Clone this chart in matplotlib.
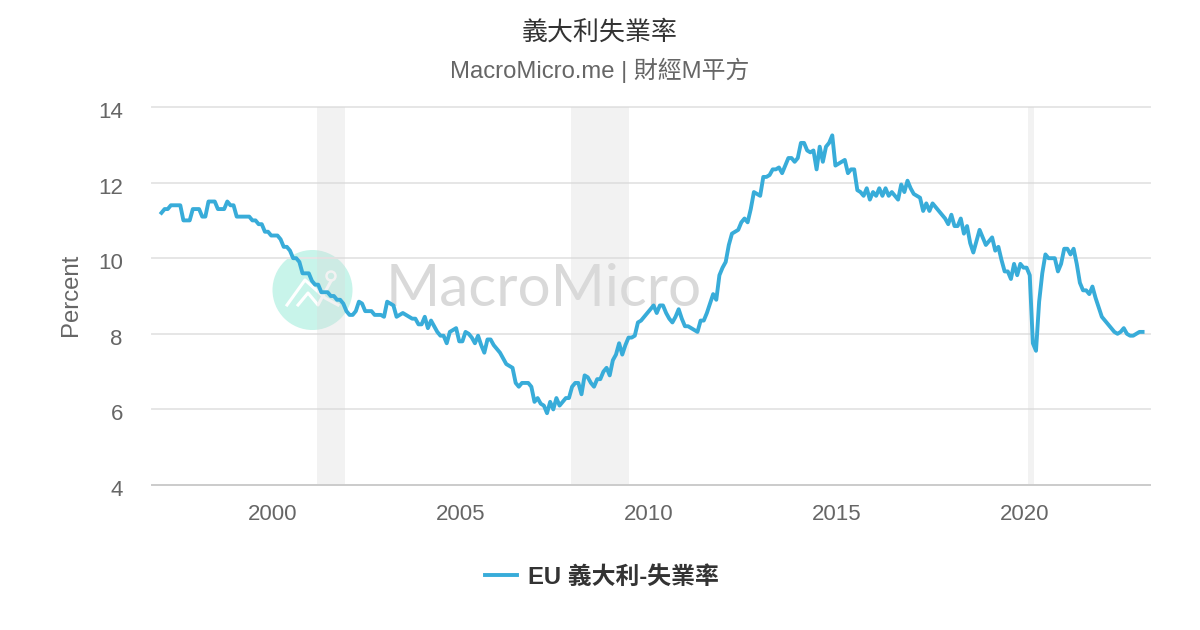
import matplotlib
matplotlib.use('Agg')
import matplotlib.pyplot as plt
import matplotlib.dates as mdates
import matplotlib.transforms as mtrans
from matplotlib.patches import Circle
import pandas as pd

title = '義大利失業率'
subtitle = 'MacroMicro.me | 財經M平方'
series_name = 'EU 義大利-失業率'
y_label = 'Percent'
y_ticks = [4, 6, 8, 10, 12, 14]
x_years = [2000, 2005, 2010, 2015, 2020]

# monthly, Jan 1997 onwards
unemployment = [
    11.2, 11.3, 11.3, 11.4, 11.4, 11.4, 11.4, 11.0, 11.0, 11.0, 11.3, 11.3,
    11.3, 11.1, 11.1, 11.5, 11.5, 11.5, 11.3, 11.3, 11.3, 11.5, 11.4, 11.4,
    11.1, 11.1, 11.1, 11.1, 11.1, 11.0, 11.0, 10.9, 10.9, 10.7, 10.7, 10.6,
    10.6, 10.6, 10.5, 10.3, 10.3, 10.2, 10.0, 10.0, 9.9, 9.6, 9.6, 9.6,
    9.4, 9.3, 9.3, 9.1, 9.1, 9.1, 9.0, 9.0, 8.9, 8.9, 8.8, 8.6,
    8.5, 8.5, 8.6, 8.85, 8.8, 8.6, 8.6, 8.6, 8.5, 8.5, 8.5, 8.45,
    8.85, 8.8, 8.75, 8.45, 8.5, 8.55, 8.5, 8.45, 8.4, 8.4, 8.25, 8.25,
    8.45, 8.15, 8.35, 8.2, 8.05, 7.95, 7.95, 7.75, 8.05, 8.1, 8.15, 7.8,
    7.8, 8.05, 8.0, 7.9, 7.75, 7.95, 7.7, 7.5, 7.85, 7.85, 7.7, 7.6,
    7.5, 7.35, 7.2, 7.15, 7.1, 6.7, 6.6, 6.7, 6.7, 6.7, 6.6, 6.2,
    6.3, 6.15, 6.1, 5.9, 6.2, 6.0, 6.3, 6.1, 6.2, 6.3, 6.3, 6.6,
    6.7, 6.7, 6.4, 6.9, 6.85, 6.7, 6.6, 6.8, 6.8, 7.0, 7.1, 6.9,
    7.3, 7.45, 7.75, 7.45, 7.7, 7.9, 7.9, 7.95, 8.3, 8.35, 8.45, 8.55,
    8.65, 8.75, 8.55, 8.75, 8.75, 8.55, 8.4, 8.3, 8.45, 8.65, 8.4, 8.2,
    8.2, 8.15, 8.1, 8.05, 8.35, 8.35, 8.55, 8.8, 9.05, 8.9, 9.55, 9.75,
    9.9, 10.35, 10.65, 10.7, 10.75, 10.95, 11.05, 10.95, 11.3, 11.75, 11.7, 11.65,
    12.15, 12.15, 12.2, 12.35, 12.35, 12.4, 12.25, 12.45, 12.65, 12.65, 12.55, 12.65,
    13.05, 13.05, 12.85, 12.8, 12.85, 12.35, 12.95, 12.55, 12.95, 13.05, 13.25, 12.45,
    12.5, 12.55, 12.6, 12.25, 12.35, 12.35, 11.8, 11.75, 11.65, 11.85, 11.55, 11.75,
    11.65, 11.85, 11.65, 11.85, 11.65, 11.75, 11.65, 11.55, 11.95, 11.75, 12.05, 11.85,
    11.7, 11.65, 11.6, 11.25, 11.45, 11.25, 11.45, 11.35, 11.25, 11.15, 11.05, 10.9,
    11.15, 10.85, 10.85, 11.05, 10.65, 10.85, 10.4, 10.15, 10.45, 10.75, 10.55, 10.35,
    10.45, 10.55, 10.2, 10.3, 9.95, 9.65, 9.65, 9.45, 9.85, 9.55, 9.85, 9.75,
    9.75, 9.55, 7.75, 7.55, 8.85, 9.6, 10.1, 10.0, 10.0, 10.0, 9.65, 9.85,
    10.25, 10.25, 10.1, 10.25, 9.85, 9.35, 9.15, 9.15, 9.05, 9.25, 8.95, 8.7,
    8.45, 8.35, 8.25, 8.15, 8.05, 8.0, 8.05, 8.15, 8.0, 7.95, 7.95, 8.0,
    8.05, 8.05,
]
dates = pd.date_range('1997-01-15', periods=len(unemployment), freq='30.4375D')

recession_start = ['2001-03-01', '2007-12-01', '2020-02-01']
recession_end = ['2001-11-30', '2009-06-20', '2020-04-01']

W, H = 1200, 630
LATIN_CJK = ['Liberation Sans', 'Noto Sans CJK TC']
plt.rcParams['font.family'] = LATIN_CJK

fig = plt.figure(figsize=(W / 100, H / 100), dpi=100, facecolor='white')

# watermark sits behind the chart, this axes is just in pixels
bg = fig.add_axes([0, 0, 1, 1], zorder=0)
bg.set_xlim(0, W)
bg.set_ylim(H, 0)
bg.axis('off')
bg.add_patch(Circle((312.5, 290), 40, color='#c8f4ea', lw=0))
bg.plot([287, 305, 325, 338], [305, 280, 298, 305], color='white', lw=2.2)
bg.plot([298, 308, 318, 331], [305, 293, 305, 281], color='white', lw=2.2)
bg.add_patch(Circle((331, 276), 4.5, fc='none', ec='white', lw=1.8))
bg.text(386, 290, 'MacroMicro', fontsize=42, family='Lato', weight='normal',
        color='#d9d9d9', ha='left', va='center')

left, right, top, bottom = 152, 1150, 107, 485
ax = fig.add_axes([left / W, 1 - bottom / H, (right - left) / W, (bottom - top) / H], zorder=1)
ax.patch.set_visible(False)

for a, b in zip(recession_start, recession_end):
    ax.axvspan(pd.Timestamp(a), pd.Timestamp(b), color='#d9d9d9', alpha=0.33, lw=0, zorder=1)

line, = ax.plot(dates, unemployment, color='#38acd9', lw=2.8, zorder=3,
                solid_joinstyle='round', label=series_name)

ax.set_ylim(4, 14)
ax.set_xlim(pd.Timestamp('1996-10-15'), pd.Timestamp('2023-04-28'))
ax.set_yticks(y_ticks)
ax.set_xticks([pd.Timestamp(str(y) + '-01-01') for y in x_years])
ax.xaxis.set_major_formatter(mdates.DateFormatter('%Y'))
ax.grid(axis='y', color='#e6e6e6', lw=1.4, zorder=0)
ax.grid(axis='x', visible=False)
ax.set_axisbelow(True)
for g in ax.get_ygridlines():
    g.set_clip_on(False)

for s in ['top', 'left', 'right']:
    ax.spines[s].set_visible(False)
ax.spines['bottom'].set_color('#cccccc')
ax.spines['bottom'].set_linewidth(1.4)
ax.tick_params(axis='both', length=0, labelsize=16, labelcolor='#666666')
ax.tick_params(axis='x', pad=14)
ax.tick_params(axis='y', pad=21)

# highcharts puts y labels a bit below the gridline
shift = mtrans.ScaledTranslation(0, -3 / 100, fig.dpi_scale_trans)
for lab in ax.get_yticklabels():
    lab.set_transform(lab.get_transform() + shift)

fig.text(71 / W, 1 - 295 / H, y_label, rotation=90, ha='center', va='center',
         fontsize=17.2, color='#666666')
fig.text(600 / W, 1 - 32 / H, title, ha='center', va='center', fontsize=18.7,
         family='Noto Sans CJK TC', color='#333333')
fig.text(600 / W, 1 - 70 / H, subtitle, ha='center', va='center', fontsize=17.2, color='#666666')

fig.legend(handles=[line], loc='center', bbox_to_anchor=(602 / W, 1 - 577 / H), frameon=False,
           handlelength=1.34, handletextpad=0.46, labelcolor='#333333',
           prop={'family': LATIN_CJK, 'weight': 'bold', 'size': 17.2})

fig.savefig('out.png', dpi=100)
